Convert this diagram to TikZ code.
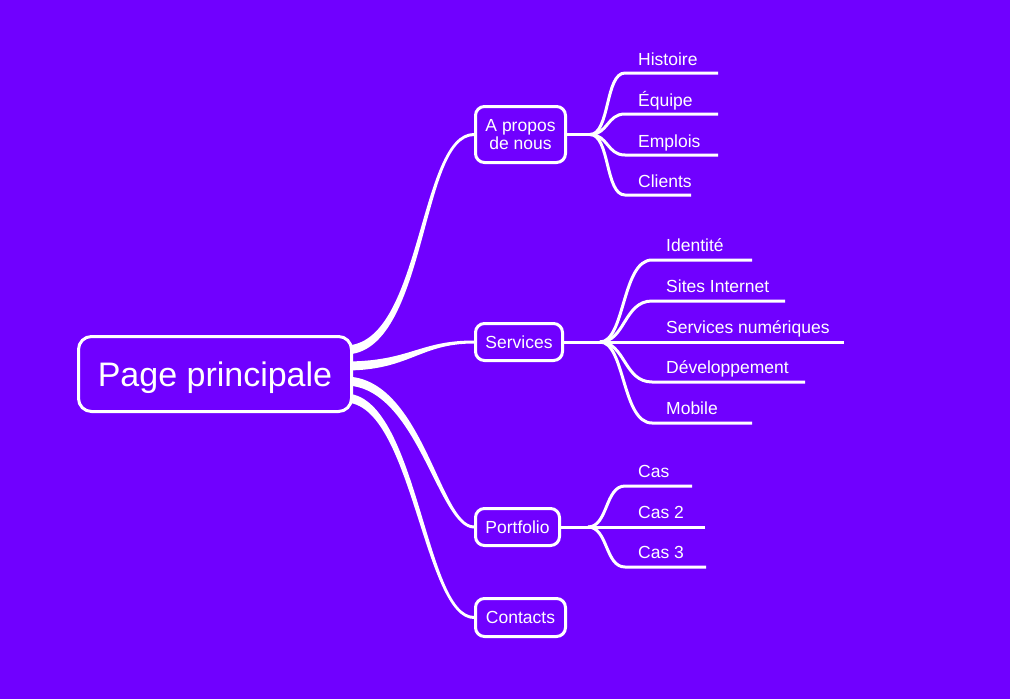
\documentclass[tikz,border=0pt]{standalone}
\usepackage{fontspec}
\setmainfont{Liberation Sans}
\usetikzlibrary{calc,backgrounds}
\definecolor{bg}{RGB}{112,0,255}
% #1 start coord, #2 end coord, #3 dx of 1st control from start, #4 dx of 2nd control from end, #5 #6 signed spread
\newcommand\taperconn[6]{%
  \fill[white] ($(#1)+(0,-4.5)$) .. controls ($(#1)+({#3-(#5)},-4.5)$) and ($(#2)+({#4-(#6)},-1.5)$) .. ($(#2)+(0,-1.5)$)
    -- ($(#2)+(0,1.5)$) .. controls ($(#2)+({#4+(#6)},1.5)$) and ($(#1)+({#3+(#5)},4.5)$) .. ($(#1)+(0,4.5)$) -- cycle;}
\begin{document}
\begin{tikzpicture}[x=1pt,y=-1pt,
  box/.style={draw=white, fill=bg, line width=3pt, rounded corners=9pt, text=white, inner sep=0pt,
    text depth=0pt, font=\fontsize{17.5}{18.5}\selectfont, align=center},
  lbl/.style={text=white, inner sep=0pt, font=\fontsize{17.5}{21}\selectfont, anchor=base west},
  br/.style={draw=white, line width=3pt}]
\useasboundingbox (0,0) rectangle (1010,699);
% boxes
\node[box, rounded corners=13pt, minimum width=273pt, minimum height=75pt, font=\fontsize{34}{40}\selectfont] (main) at (215,374) {Page principale};
\node[box, minimum width=90pt, minimum height=56pt] (apropos) at (520.5,134.5) {A propos\\de nous};
\node[box, minimum width=87pt, minimum height=37pt] (services) at (519,342) {Services};
\node[box, minimum width=84pt, minimum height=37pt] (portfolio) at (517.5,527) {Portfolio};
\node[box, minimum width=90pt, minimum height=38pt] (contacts) at (520.5,617.5) {Contacts};
% main connectors (behind the boxes)
\coordinate (s1) at (345,350);
\coordinate (s2) at (345,366);
\coordinate (s3) at (345,381);
\coordinate (s4) at (345,398);
\begin{pgfonlayer}{background}
\fill[bg] (0,0) rectangle (1010,699);
\taperconn{s1}{apropos.west}{80}{-55}{2.5}{1}
\taperconn{s2}{services.west}{65}{-55}{0}{0}
\taperconn{s3}{portfolio.west}{75}{-35}{-2.5}{-1}
\taperconn{s4}{contacts.west}{70}{-50}{-2.5}{-1}
\end{pgfonlayer}
% --- A propos de nous
\coordinate (ab) at (590,134.5);
\draw[br] (apropos.east) -- (ab);
\node[lbl] (a1) at (638,65) {Histoire};
\node[lbl] (a2) at (638,106) {Équipe};
\node[lbl] (a3) at (638,147) {Emplois};
\node[lbl] (a4) at (638,187) {Clients};
\coordinate (a1s) at (625,73);  \coordinate (a1e) at (718,73);
\coordinate (a2s) at (625,114); \coordinate (a2e) at (718,114);
\coordinate (a3s) at (625,155); \coordinate (a3e) at (718,155);
\coordinate (a4s) at (625,195); \coordinate (a4e) at (691,195);
\draw[br] (ab) .. controls +(20,0) and +(-20,0) .. (a1s) -- (a1e);
\draw[br] (ab) .. controls +(18,0) and +(-18,0) .. (a2s) -- (a2e);
\draw[br] (ab) .. controls +(18,0) and +(-18,0) .. (a3s) -- (a3e);
\draw[br] (ab) .. controls +(20,0) and +(-20,0) .. (a4s) -- (a4e);
% --- Services
\coordinate (sb) at (600,342);
\draw[br] (services.east) -- (sb);
\node[lbl] (b1) at (666,251) {Identité};
\node[lbl] (b2) at (666,292) {Sites Internet};
\node[lbl] (b3) at (666,333) {Services numériques};
\node[lbl] (b4) at (666,373) {Développement};
\node[lbl] (b5) at (666,414) {Mobile};
\coordinate (b1s) at (652,260); \coordinate (b1e) at (752,260);
\coordinate (b2s) at (652,301); \coordinate (b2e) at (785,301);
\coordinate (b3e) at (844,342);
\coordinate (b4s) at (652,382); \coordinate (b4e) at (805,382);
\coordinate (b5s) at (652,423); \coordinate (b5e) at (752,423);
\draw[br] (sb) .. controls +(25,0) and +(-30,0) .. (b1s) -- (b1e);
\draw[br] (sb) .. controls +(25,0) and +(-28,0) .. (b2s) -- (b2e);
\draw[br] (sb) -- (b3e);
\draw[br] (sb) .. controls +(25,0) and +(-28,0) .. (b4s) -- (b4e);
\draw[br] (sb) .. controls +(25,0) and +(-30,0) .. (b5s) -- (b5e);
% --- Portfolio
\coordinate (pb) at (588,527);
\draw[br] (portfolio.east) -- (pb);
\node[lbl] (p1) at (638,477) {Cas};
\node[lbl] (p2) at (638,518) {Cas 2};
\node[lbl] (p3) at (638,558) {Cas 3};
\coordinate (p1s) at (625,486); \coordinate (p1e) at (692,486);
\coordinate (p2e) at (705,527);
\coordinate (p3s) at (625,567); \coordinate (p3e) at (706,567);
\draw[br] (pb) .. controls +(20,0) and +(-20,0) .. (p1s) -- (p1e);
\draw[br] (pb) -- (p2e);
\draw[br] (pb) .. controls +(20,0) and +(-20,0) .. (p3s) -- (p3e);
\end{tikzpicture}
\end{document}
